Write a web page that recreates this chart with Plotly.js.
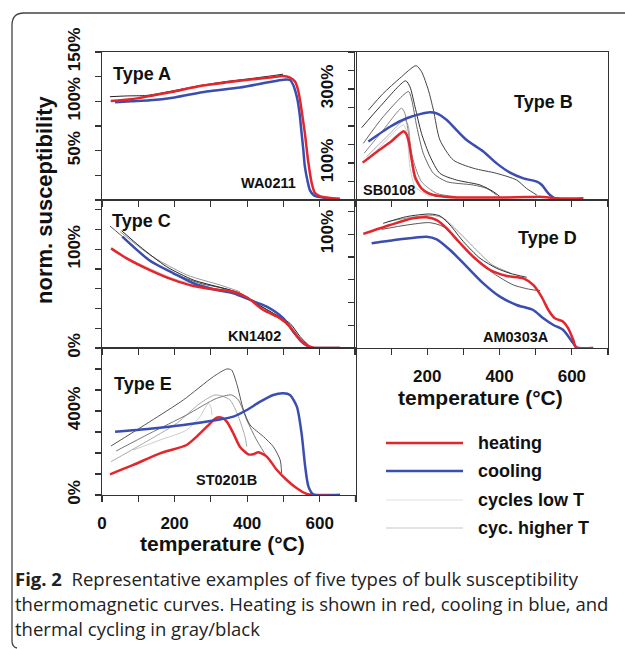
<!DOCTYPE html>
<html><head><meta charset="utf-8">
<script src="https://cdn.plot.ly/plotly-3.0.1.min.js"></script>
<style>html,body{margin:0;padding:0;background:#fff}</style>
</head><body><div id="chart" style="width:625px;height:649px"></div>
<script>
// ---------- DATA (temperature °C, normalized susceptibility %) ----------
// Type A  (WA0211)
var aHeatT = [24,80,141,200,270,340,408,470,498,518,532,540,546,552,559,568,578,587,600,610,630,656];
var aHeatV = [100.3,102,106,110,115.5,119,122,124.5,125.6,124,120,112,101,86,68,40,17,7,4,3,2,1];
var aCoolT = [36,80,132,200,288,380,454,500,518,527,533,539,545,550,555,559,566,573,583,592,620,656];
var aCoolV = [99,100,101,104,110,114,119,122,121.6,116.5,110,101,86,68,50,34,20,10,5,3.4,2,1];
var aCycT  = [22,70,123,200,270,340,408,470,499];
var aCycV  = [104.7,105.5,106,111,116,120,123,126,127.5];
// Type B  (SB0108)
var bHeatT = [21,60,100,134,141,148,157,166,175,184,200,217,250,281,350,420,470,512,535,558,600,632];
var bHeatV = [101,130,158,186,180,162,108,63,44,31.5,20,13.5,9,7,6.5,7,8,9,7,4.5,4,4.5];
var bCoolT = [37,97,143,180,207,226,254,281,309,355,392,429,466,503,517,535,553,580,604,622];
var bCoolV = [158,198,221,232,237,234,216,189,162,131,99,74,58.5,49.5,40.5,18,4.5,2,1.8,1.5];
var bCyc1T = [37,78,124,169,184,203,217,235,272,327,392,447,475,503];
var bCyc1V = [243,288,329,363,347,297,243,162,108,86,72,54,31,13.5];
var bCyc2T = [18.5,69,140,152,166,184,208,235,281,346,383,401];
var bCyc2V = [195.5,252,322,306,252,180,117,72,54,40.5,22.5,9];
var bCyc3T = [23,78,148,157,171,189,217,254,327,364,392];
var bCyc3V = [153,225,293,270,198,126,72,49.5,40.5,31.5,13.5];
var bCyc4T = [25,78,129,138,148,161,184,226,281];
var bCyc4V = [126,189,248,234,180,108,49.5,18,9];
var bCyc5T = [32,88,138,148,154,166,198,254];
var bCyc5V = [117,171,216,198,126,54,18,7];
var bCyc6T = [37,134,143,152,166,208];
var bCyc6V = [108,203,180,90,36,9];
// Type C  (KN1402)
var cHeatT = [25,68,132,197,252,307,362,399,445,491,518,546,569,583,620,656];
var cHeatV = [101,90.9,79,69,62.8,59.5,57,51.4,38.5,30,21.6,8.1,2,0.4,0,0];
var cCoolT = [56,86,132,197,252,307,362,408,454,500,527,555,578,620,656];
var cCoolV = [112.8,102.7,88.5,75.7,65.6,59.5,55.4,48.7,41.9,30,16.6,4.8,0.4,0,0];
var cCyc1T = [22,68,132,197,270,353,399,454,500,537,573];
var cCyc1V = [123.6,109.4,89.2,75.7,65.6,58.8,50.4,38.5,28.4,11.5,0.7];
var cCyc2T = [54,105,178,252,325,381,417,472,518,546,573];
var cCyc2V = [118.9,102.7,82.4,68.9,61.5,55.4,47,35.2,25,11.5,1.4];
var cCyc3T = [50,132,234,325,380];
var cCyc3V = [117.9,94.3,74,63.9,57];
var cCyc4T = [28,100,200,300,380];
var cCyc4V = [99,86,70,61,56];
// Type D  (AM0303A)
var dHeatT = [23,97,161,198,226,254,291,327,374,420,466,493,516,535,553,576,590,604,611,659];
var dHeatV = [100.2,108,113.9,114.8,112.4,105.1,92,80.2,68.5,63.3,61.2,55.4,45.1,33.4,26.1,23.1,17.3,7,0.6,0];
var dCoolT = [46,125,198,226,263,309,355,401,447,493,521,549,576,604,615,659];
var dCoolV = [92,95.5,97.8,95.5,86.1,71.5,56.8,45.1,37.8,33.4,26.1,20.2,15.8,4.1,0,0];
var dCyc1T = [78,143,207,235,263,300,346,392,429,475];
var dCyc1V = [109.5,115.4,117.7,116,108,93.4,78.8,70,65.6,62.1];
var dCyc2T = [74,143,207,244,281,327,383,438,484,512];
var dCyc2V = [104.2,108,110.1,106.6,94.9,80.2,65.6,55.4,51.5,50.4];
var dCyc3T = [90,160,215,245,280,330,380,430];
var dCyc3V = [111,115,116.5,114,104,88,73,66];
// Type E  (ST0201B)
var eHeatT = [22,86,160,233,261,289,316,330,344,362,380,403,417,431,454,482,509,537,564,583,656];
var eHeatV = [98.5,143,198.5,238,278,325.5,368.3,368.3,349.3,293.7,230.3,193.8,193.8,203.3,182.7,119.2,71.6,32,5,0.6,0];
var eCoolT = [36,132,224,316,362,399,436,472,500,518,537,550,560,569,583,656];
var eCoolV = [301.7,316,333.4,357.2,373,404.8,444.5,476.3,484.2,476.3,420.7,293.7,135,40,1.7,0];
var eCyc1T = [25,132,224,307,344,357,371,390,408,445,472,491,495];
var eCyc1V = [233.5,349.3,452.4,563.5,600,595.3,531.8,404.8,333.4,278,230.3,166.8,103.3];
var eCyc2T = [39,132,233,316,357,376,399,426,454,482];
var eCyc2V = [209.6,293.7,381,460.4,476.3,452.4,357.2,262,182.7,119.2];
var eCyc3T = [25,114,206,270,311,330,353,376,394,399];
var eCyc3V = [158.9,246.1,341.4,436.6,476.3,471.5,452.4,373,278,230.3];
var eCyc4T = [86,160,233,270,293,300,303];
var eCyc4V = [214,262,309,373,436,420,380];

// tick labels
var tempTicks = [0,100,200,300,400,500,600,700];
var tempLabelsE = ['0','','200','','400','','600',''];
var tempLabelsD = ['','','200','','400','','600',''];
var aTicks = [0,25,50,75,100,125,150];
var aLabels = ['','','50%','','100%','','150%'];
var bTicks = [0,50,100,150,200,250,300,350,400];
var bLabels = ['','','100%','','','','300%','',''];
var cTicks = [0,20,40,60,80,100,120,140];
var cLabels = ['0%','','','','','100%','',''];
var dTicks = [0,20,40,60,80,100,120];
var dLabels = ['','','','','','100%',''];
var eTicks = [0,100,200,300,400,500,600,700];
var eLabels = ['0%','','','','400%','','',''];

var legendNames = ['heating','cooling','cycles low T','cyc. higher T'];
var panelNames = ['Type A','Type B','Type C','Type D','Type E'];
var sampleNames = ['WA0211','SB0108','KN1402','AM0303A','ST0201B'];
var captionLines = ['<b>Fig. 2</b>\u00a0 Representative examples of five types of bulk susceptibility',
  'thermomagnetic curves. Heating is shown in red, cooling in blue, and',
  'thermal cycling in gray/black'];

// ---------- STYLE ----------
var RED = '#e3262b', BLUE = '#3a4db0';
var FONT = 'Liberation Sans, Arial, Helvetica, sans-serif';
var W = 625, H = 649;
function X(p){return p/W;}
function Y(p){return 1-p/H;}
function bold(arr){return arr.map(function(s){return s ? '<b>'+s+'</b>' : '';});}

var traces = [];
function line(xs, ys, n, color, width){
  traces.push({x:xs, y:ys, xaxis:'x'+(n===1?'':n), yaxis:'y'+(n===1?'':n), type:'scatter', mode:'lines',
    line:{color:color, width:width, shape:'spline', smoothing:0.7}, showlegend:false, hoverinfo:'skip'});
}
// A
line(aCycT,aCycV,1,'#222',1);
line(aCoolT,aCoolV,1,BLUE,2.5);
line(aHeatT,aHeatV,1,RED,2.5);
// B
line(bCyc6T,bCyc6V,2,'#cfcfcf',1);
line(bCyc5T,bCyc5V,2,'#aaaaaa',1);
line(bCyc4T,bCyc4V,2,'#888',1);
line(bCyc3T,bCyc3V,2,'#666',1);
line(bCyc2T,bCyc2V,2,'#333',1);
line(bCyc1T,bCyc1V,2,'#444',1);
line(bCoolT,bCoolV,2,BLUE,2.5);
line(bHeatT,bHeatV,2,RED,2.5);
// C
line(cCyc4T,cCyc4V,3,'#cccccc',1);
line(cCyc3T,cCyc3V,3,'#999',1);
line(cCyc1T,cCyc1V,3,'#555',1);
line(cCyc2T,cCyc2V,3,'#222',1);
line(cCoolT,cCoolV,3,BLUE,2.5);
line(cHeatT,cHeatV,3,RED,2.5);
// D
line(dCyc3T,dCyc3V,4,'#999',1);
line(dCyc2T,dCyc2V,4,'#555',1);
line(dCyc1T,dCyc1V,4,'#333',1);
line(dCoolT,dCoolV,4,BLUE,2.5);
line(dHeatT,dHeatV,4,RED,2.5);
// E
line(eCyc4T,eCyc4V,5,'#cccccc',1);
line(eCyc3T,eCyc3V,5,'#aaaaaa',1);
line(eCyc2T,eCyc2V,5,'#777',1);
line(eCyc1T,eCyc1V,5,'#555',1);
line(eHeatT,eHeatV,5,RED,2.5);
line(eCoolT,eCoolV,5,BLUE,2.5);

var tickFont = {family:FONT, size:17, color:'#111', weight:'bold'};
function xax(dom, anchor, labels){
  return {domain:dom, anchor:anchor, range:[0,700], tickvals:tempTicks,
    ticktext:labels ? bold(labels) : tempTicks.map(function(){return '';}),
    showticklabels:!!labels, ticks:'outside', ticklen:6, tickwidth:1.2, tickcolor:'#333',
    showline:true, linecolor:'#333', linewidth:1.3, mirror:true, showgrid:false, zeroline:false,
    tickfont:tickFont, ticklabelstandoff:6, fixedrange:true};
}
function yax(dom, anchor, rng, tv, tt){
  return {domain:dom, anchor:anchor, range:rng, tickvals:tv, ticktext:bold(tt), tickangle:-90,
    ticks:'outside', ticklen:6, tickwidth:1.2, tickcolor:'#333',
    showline:true, linecolor:'#333', linewidth:1.3, mirror:true, showgrid:false, zeroline:false,
    tickfont:tickFont, ticklabelstandoff:8, fixedrange:true};
}
var colL = [X(102),X(356)], colR = [X(355),X(608)];
var row1 = [Y(200),Y(52)], row2 = [Y(348),Y(200)], row3 = [Y(495),Y(348)];

var ann = [];
function txt(x,y,t,size,opts){
  var a = {xref:'paper',yref:'paper',x:X(x),y:Y(y),text:'<b>'+t+'</b>',showarrow:false,xanchor:'left',yanchor:'middle',
    font:{family:FONT,size:size,color:'#111',weight:'bold'}};
  for (var k in (opts||{})) a[k]=opts[k];
  ann.push(a);
}
var panelPos = [[111,74],[512,102],[110,221],[516,238],[112,384]];
var samplePos = [[239,183],[361,190],[226,336],[481,337],[194,480]];
for (var i=0;i<5;i++){
  txt(panelPos[i][0],panelPos[i][1],panelNames[i],18);
  txt(samplePos[i][0],samplePos[i][1],sampleNames[i],14.5);
}
txt(45,200,'norm. susceptibility',22,{xanchor:'center',textangle:-90});
txt(222,543,'temperature (°C)',21,{xanchor:'center'});
txt(481,397,'temperature (°C)',21,{xanchor:'center'});
// legend
var legColors = [RED, BLUE, '#e2e2e2', '#c8c8c8'];
var legWidths = [2.5, 2.5, 1.2, 1.2];
var legY = [443,471,500,528];
var shapes = [];
for (var j=0;j<4;j++){
  shapes.push({type:'line',xref:'paper',yref:'paper',x0:X(386),x1:X(463),y0:Y(legY[j]),y1:Y(legY[j]),
    line:{color:legColors[j],width:legWidths[j]}});
  txt(476,legY[j],legendNames[j],18);
}
// caption
var capY = [578,603,628];
for (var c=0;c<3;c++){
  ann.push({xref:'paper',yref:'paper',x:X(13),y:Y(capY[c]),text:captionLines[c],showarrow:false,xanchor:'left',yanchor:'middle',
    font:{family:'Open Sans, Noto Sans, sans-serif',size:18.5,color:'#222'}});
}
// frame
shapes.push({type:'path',xref:'paper',yref:'paper',
  path:'M '+X(625)+','+Y(13)+' L '+X(24)+','+Y(13)+' Q '+X(12)+','+Y(13)+' '+X(12)+','+Y(25)+
       ' L '+X(12)+','+Y(641)+' Q '+X(12)+','+Y(647)+' '+X(17)+','+Y(648),
  line:{color:'#444',width:1.3}});
// short tick below panel E's right edge
shapes.push({type:'line',xref:'paper',yref:'paper',x0:X(355.5),x1:X(355.5),y0:Y(495),y1:Y(502),line:{color:'#333',width:1.3}});

var layout = {width:W,height:H,margin:{l:0,r:0,t:0,b:0},paper_bgcolor:'#fff',plot_bgcolor:'rgba(0,0,0,0)',
  showlegend:false, font:{family:FONT},
  xaxis:xax(colL,'y'), yaxis:yax(row1,'x',[0,150],aTicks,aLabels),
  xaxis2:xax(colR,'y2'), yaxis2:yax(row1,'x2',[0,400],bTicks,bLabels),
  xaxis3:xax(colL,'y3'), yaxis3:yax(row2,'x3',[0,150],cTicks,cLabels),
  xaxis4:xax(colR,'y4',tempLabelsD), yaxis4:yax(row2,'x4',[0,130],dTicks,dLabels),
  xaxis5:xax(colL,'y5',tempLabelsE), yaxis5:yax(row3,'x5',[0,700],eTicks,eLabels),
  annotations:ann, shapes:shapes};
Plotly.newPlot('chart',traces,layout,{displayModeBar:false,staticPlot:true});
</script></body></html>
